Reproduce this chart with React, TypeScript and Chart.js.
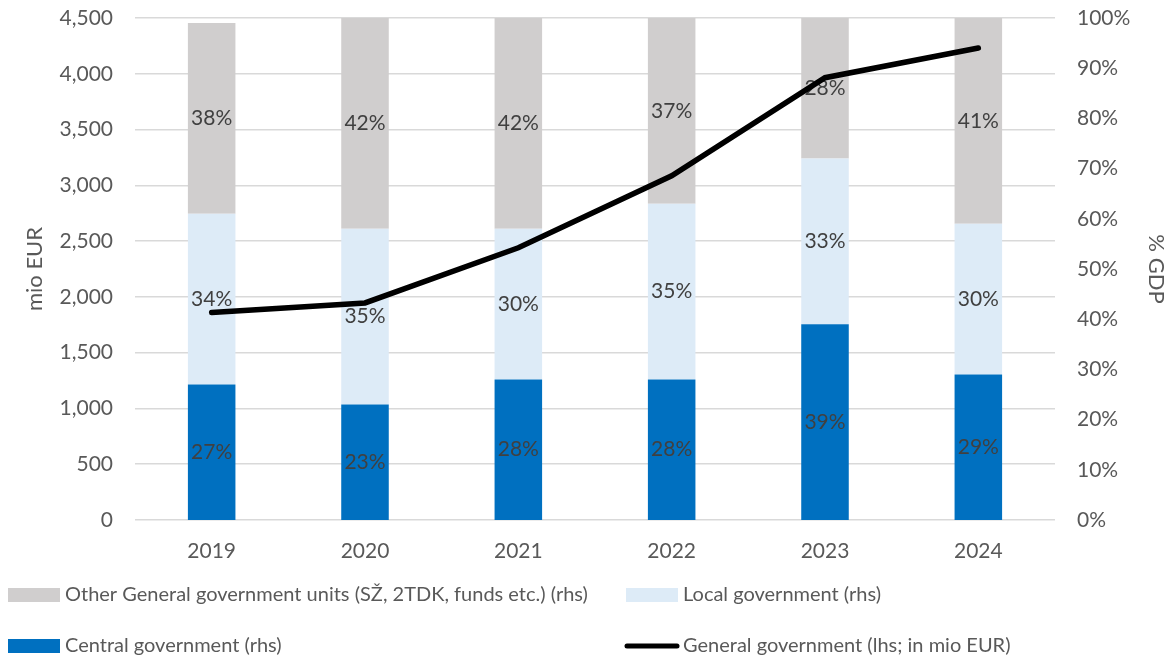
import React, { useEffect, useRef } from "react";
import { Chart, registerables } from "chart.js";

Chart.register(...registerables);

const categories = ["2019", "2020", "2021", "2022", "2023", "2024"];
const centralShare = [27, 23, 28, 28, 39, 29];
const localShare = [34, 35, 30, 35, 33, 30];
const otherShare = [38, 42, 42, 37, 28, 41];
const generalDebt = [1859, 1946, 2440, 3086, 3965, 4231];

const leftMax = 4500;
const leftStep = 500;
const rightMax = 100;
const rightStep = 10;

const seriesNames = {
  other: "Other General government units (SŽ, 2TDK, funds etc.) (rhs)",
  local: "Local government (rhs)",
  central: "Central government (rhs)",
  general: "General government (lhs; in mio EUR)",
};

const COLORS = {
  central: "#0070C0",
  local: "#DDEBF7",
  other: "#D0CECE",
  line: "#000000",
  text: "#595959",
  label: "#404040",
  grid: "#D9D9D9",
};

const FONT = "Lato, 'Open Sans', sans-serif";

const labelPlugin = {
  id: "barLabels",
  afterDatasetDraw(chart: any, args: any) {
    const ds = chart.data.datasets[args.index];
    if (ds.type !== "bar") return;
    const meta = args.meta;
    const ctx = chart.ctx;
    ctx.save();
    ctx.font = `21px ${FONT}`;
    ctx.fillStyle = COLORS.label;
    ctx.textAlign = "center";
    ctx.textBaseline = "middle";
    meta.data.forEach((el: any, i: number) => {
      const v = ds.data[i];
      const y = (el.y + el.base) / 2;
      ctx.fillText(`${v}%`, el.x, y);
    });
    ctx.restore();
  },
};

const legendPlugin = {
  id: "customLegend",
  afterDraw(chart: any) {
    const ctx = chart.ctx;
    ctx.save();
    ctx.font = `20px ${FONT}`;
    ctx.fillStyle = COLORS.text;
    ctx.textBaseline = "middle";
    ctx.textAlign = "left";
    const rows = [
      { y: 595, items: [
        { x: 8, kind: "box", color: COLORS.other, text: seriesNames.other },
        { x: 626, kind: "box", color: COLORS.local, text: seriesNames.local },
      ] },
      { y: 646, items: [
        { x: 8, kind: "box", color: COLORS.central, text: seriesNames.central },
        { x: 626, kind: "line", color: COLORS.line, text: seriesNames.general },
      ] },
    ];
    rows.forEach((row) => {
      row.items.forEach((it) => {
        if (it.kind === "box") {
          ctx.fillStyle = it.color;
          ctx.fillRect(it.x, row.y - 7, 52, 14);
        } else {
          ctx.strokeStyle = it.color;
          ctx.lineWidth = 5;
          ctx.lineCap = "round";
          ctx.beginPath();
          ctx.moveTo(it.x + 1, row.y);
          ctx.lineTo(it.x + 51, row.y);
          ctx.stroke();
        }
        ctx.fillStyle = COLORS.text;
        ctx.fillText(it.text, it.x + 57, row.y);
      });
    });
    ctx.restore();
  },
};

export default function App() {
  const ref = useRef<HTMLCanvasElement>(null);

  useEffect(() => {
    if (!ref.current) return;
    const chart = new Chart(ref.current, {
      type: "bar",
      data: {
        labels: categories,
        datasets: [
          {
            type: "line",
            label: seriesNames.general,
            data: generalDebt,
            yAxisID: "y",
            borderColor: COLORS.line,
            backgroundColor: COLORS.line,
            borderWidth: 5.5,
            pointRadius: 0,
            tension: 0,
            borderCapStyle: "round",
            order: 0,
          },
          {
            type: "bar",
            label: seriesNames.central,
            data: centralShare,
            yAxisID: "y1",
            backgroundColor: COLORS.central,
            stack: "s",
            order: 1,
            barPercentage: 0.31,
            categoryPercentage: 1,
          },
          {
            type: "bar",
            label: seriesNames.local,
            data: localShare,
            yAxisID: "y1",
            backgroundColor: COLORS.local,
            stack: "s",
            order: 1,
            barPercentage: 0.31,
            categoryPercentage: 1,
          },
          {
            type: "bar",
            label: seriesNames.other,
            data: otherShare,
            yAxisID: "y1",
            backgroundColor: COLORS.other,
            stack: "s",
            order: 1,
            barPercentage: 0.31,
            categoryPercentage: 1,
          },
        ] as any,
      },
      options: {
        responsive: false,
        animation: false,
        devicePixelRatio: 1,
        layout: { padding: { top: 18, bottom: 89, left: 0, right: 0 } },
        plugins: {
          legend: { display: false },
          tooltip: { enabled: false },
          title: { display: false },
        },
        scales: {
          x: {
            stacked: true,
            grid: { display: false },
            border: { display: false },
            ticks: { color: COLORS.text, font: { family: FONT, size: 21 }, padding: 11 },
            afterFit: (s: any) => { s.height = 50; s.paddingLeft = 0; s.paddingRight = 0; },
          },
          y: {
            position: "left",
            min: 0,
            max: leftMax,
            ticks: {
              stepSize: leftStep,
              color: COLORS.text,
              font: { family: FONT, size: 21 },
              padding: 22,
              callback: (v: any) => Number(v).toLocaleString("en-US"),
            },
            grid: { color: COLORS.grid, lineWidth: 1.5, drawTicks: false },
            border: { display: false },
            title: {
              display: true,
              text: "mio EUR",
              color: COLORS.text,
              font: { family: FONT, size: 22 },
              padding: { top: 22, bottom: 0 },
            },
            afterFit: (s: any) => { s.width = 135; s.paddingTop = 0; s.paddingBottom = 0; },
          },
          y1: {
            position: "right",
            stacked: true,
            min: 0,
            max: rightMax,
            ticks: {
              stepSize: rightStep,
              color: COLORS.text,
              font: { family: FONT, size: 21 },
              padding: 22,
              callback: (v: any) => `${v}%`,
            },
            grid: { display: false, drawTicks: false },
            border: { display: false },
            title: {
              display: true,
              text: "% GDP",
              color: COLORS.text,
              font: { family: FONT, size: 22 },
              padding: { top: 0, bottom: 0 },
            },
            afterFit: (s: any) => { s.width = 114; s.paddingTop = 0; s.paddingBottom = 0; },
          },
        },
      } as any,
      plugins: [labelPlugin, legendPlugin],
    });
    return () => chart.destroy();
  }, []);

  return (
    <div style={{ position: "fixed", left: 0, top: 0, width: 1169, height: 659, background: "#fff" }}>
      <canvas ref={ref} width={1169} height={659} style={{ width: 1169, height: 659 }} />
    </div>
  );
}
